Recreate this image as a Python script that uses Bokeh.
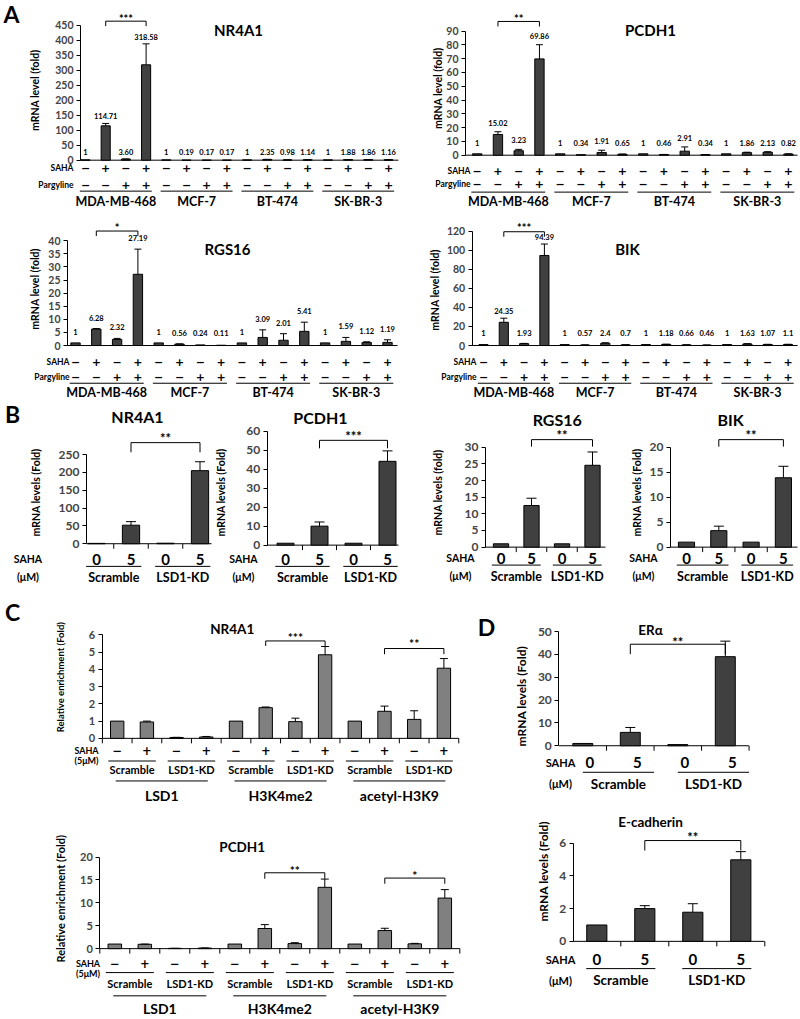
import math
from bokeh.plotting import figure
from bokeh.models import Range1d, LinearAxis, FixedTicker
from bokeh.layouts import row, column
from bokeh.core.properties import value
from bokeh.embed import file_html
from bokeh.resources import INLINE

# ------------------------------------------------------------------ data
A_LINES = ["MDA-MB-468", "MCF-7", "BT-474", "SK-BR-3"]
A_SAHA = ["−", "+", "−", "+"]
A_PARG = ["−", "−", "+", "+"]

A_NR4A1_VALS = [1, 114.71, 3.60, 318.58, 1, 0.19, 0.17, 0.17, 1, 2.35, 0.98, 1.14, 1, 1.88, 1.86, 1.16]
A_NR4A1_ERRS = [0, 8, 0.5, 70, 0, 0, 0, 0, 0, 0.5, 0.2, 0.2, 0, 0.3, 0.3, 0.2]
A_NR4A1_LBLS = ["1", "114.71", "3.60", "318.58", "1", "0.19", "0.17", "0.17",
                "1", "2.35", "0.98", "1.14", "1", "1.88", "1.86", "1.16"]
A_NR4A1_TICKS = [0, 50, 100, 150, 200, 250, 300, 350, 400, 450]
A_NR4A1_SIG = [2, 4, "***"]

A_PCDH1_VALS = [1, 15.02, 3.23, 69.86, 1, 0.34, 1.91, 0.65, 1, 0.46, 2.91, 0.34, 1, 1.86, 2.13, 0.82]
A_PCDH1_ERRS = [0, 2, 1.0, 10.3, 0, 0, 1.7, 0.2, 0, 0.1, 3.1, 0.1, 0, 0.3, 0.4, 0.2]
A_PCDH1_LBLS = ["1", "15.02", "3.23", "69.86", "1", "0.34", "1.91", "0.65",
                "1", "0.46", "2.91", "0.34", "1", "1.86", "2.13", "0.82"]
A_PCDH1_TICKS = [0, 10, 20, 30, 40, 50, 60, 70, 80, 90]
A_PCDH1_SIG = [2, 4, "**"]

A_RGS16_VALS = [1, 6.28, 2.32, 27.19, 1, 0.56, 0.24, 0.11, 1, 3.09, 2.01, 5.41, 1, 1.59, 1.12, 1.19]
A_RGS16_ERRS = [0, 0.2, 0.4, 9.6, 0, 0.05, 0, 0, 0, 2.9, 2.5, 3.5, 0, 1.5, 0.3, 1.0]
A_RGS16_LBLS = ["1", "6.28", "2.32", "27.19", "1", "0.56", "0.24", "0.11",
                "1", "3.09", "2.01", "5.41", "1", "1.59", "1.12", "1.19"]
A_RGS16_TICKS = [0, 5, 10, 15, 20, 25, 30, 35, 40]
A_RGS16_SIG = [2, 4, "*"]

A_BIK_VALS = [1, 24.35, 1.93, 94.39, 1, 0.57, 2.4, 0.7, 1, 1.18, 0.66, 0.46, 1, 1.63, 1.07, 1.1]
A_BIK_ERRS = [0, 4.3, 0.3, 12, 0, 0.1, 0.5, 0.1, 0, 0.2, 0.1, 0.1, 0, 0.3, 0.2, 0.2]
A_BIK_LBLS = ["1", "24.35", "1.93", "94.39", "1", "0.57", "2.4", "0.7",
              "1", "1.18", "0.66", "0.46", "1", "1.63", "1.07", "1.1"]
A_BIK_TICKS = [0, 20, 40, 60, 80, 100, 120]
A_BIK_SIG = [2, 4, "***"]

B_SAHA = ["0", "5", "0", "5"]
B_GROUPS = ["Scramble", "LSD1-KD"]
B_NR4A1_VALS = [1, 52, 1.5, 205]
B_NR4A1_ERRS = [0, 10, 0, 25]
B_NR4A1_TICKS = [0, 50, 100, 150, 200, 250]
B_NR4A1_SIG = [2, 4, "**"]
B_PCDH1_VALS = [1, 10, 1, 44.2]
B_PCDH1_ERRS = [0, 2.2, 0, 5.5]
B_PCDH1_TICKS = [0, 10, 20, 30, 40, 50, 60]
B_PCDH1_SIG = [2, 4, "***"]
B_RGS16_VALS = [1, 12.5, 1, 24.6]
B_RGS16_ERRS = [0, 2.2, 0, 4.0]
B_RGS16_TICKS = [0, 5, 10, 15, 20, 25, 30]
B_RGS16_SIG = [2, 4, "**"]
B_BIK_VALS = [1, 3.3, 1, 13.9]
B_BIK_ERRS = [0, 0.9, 0, 2.3]
B_BIK_TICKS = [0, 5, 10, 15, 20]
B_BIK_SIG = [2, 4, "**"]

C_SAHA = ["−", "+"]
C_SUBGROUPS = ["Scramble", "LSD1-KD"]
C_TARGETS = ["LSD1", "H3K4me2", "acetyl-H3K9"]
C_NR4A1_VALS = [1, 0.95, 0.05, 0.08, 1, 1.78, 0.97, 4.85, 1, 1.57, 1.1, 4.07]
C_NR4A1_ERRS = [0, 0.05, 0.01, 0.03, 0, 0.04, 0.2, 0.48, 0, 0.3, 0.5, 0.56]
C_NR4A1_TICKS = [0, 1, 2, 3, 4, 5, 6]
C_NR4A1_SIGS = [[6, 8, "***"], [10, 12, "**"]]
C_PCDH1_VALS = [1, 0.95, 0.06, 0.12, 1, 4.4, 1.1, 13.4, 1, 3.95, 1.05, 11.05]
C_PCDH1_ERRS = [0, 0.05, 0.02, 0.03, 0, 0.85, 0.2, 1.8, 0, 0.5, 0.1, 1.85]
C_PCDH1_TICKS = [0, 5, 10, 15, 20]
C_PCDH1_SIGS = [[6, 8, "**"], [10, 12, "*"]]

D_SAHA = ["0", "5", "0", "5"]
D_GROUPS = ["Scramble", "LSD1-KD"]
D_ERA_VALS = [1, 5.85, 0.5, 39]
D_ERA_ERRS = [0, 2.15, 0, 6.8]
D_ERA_TICKS = [0, 10, 20, 30, 40, 50]
D_ERA_SIG = [2, 4, "**"]
D_ECAD_VALS = [1, 2.0, 1.78, 4.98]
D_ECAD_ERRS = [0, 0.18, 0.52, 0.5]
D_ECAD_TICKS = [0, 2, 4, 6]
D_ECAD_SIG = [2, 4, "**"]

# ------------------------------------------------------------------ style / layout
FONT = "Lato"
SIGN_FONT = "DejaVu Sans"
DARK = "#404040"
MID = "#808080"
SX = 1.0
SY = 1017 / 1019.0


class Chart:
    """One sub-chart: a figure whose frame fills its canvas; layout positions given
    in reference pixels are converted through the figure's own data scale."""

    def __init__(self, g, top_val):
        x0, y0, x1, y1 = g["box"]
        self.g = g
        self.bx1, self.dx = g["bx1"], g["dx"]
        self.base = g["base"]
        self.kpy = (g["base"] - g["top"]) / float(top_val)
        self.top_val = top_val
        X0, X1 = round(x0 * SX), round(x1 * SX)
        Y0, Y1 = round(y0 * SY), round(y1 * SY)
        self.p = figure(width=X1 - X0, height=Y1 - Y0,
                        x_range=Range1d(self.xd(X0 / SX), self.xd(X1 / SX)),
                        y_range=Range1d(self.yd(Y1 / SY), self.yd(Y0 / SY)),
                        output_backend="svg", toolbar_location=None,
                        x_axis_location=None, y_axis_location=None,
                        min_border=0, outline_line_color=None,
                        background_fill_color="white", border_fill_color="white")
        self.p.grid.visible = False

    def xd(self, px):
        return 1 + (px - self.bx1) / self.dx

    def yd(self, py):
        return (self.base - py) / self.kpy

    def ux(self, d):
        return d / self.dx

    def uy(self, d):
        return d / self.kpy

    def yaxis(self, ticks, size):
        ax = LinearAxis(fixed_location=self.xd(self.g["axis"]), bounds=(0, self.top_val),
                        ticker=FixedTicker(ticks=ticks, minor_ticks=[]),
                        major_label_text_font=FONT, major_label_text_font_style="bold",
                        major_label_text_font_size=size, major_label_standoff=3,
                        major_tick_out=4, major_tick_in=0, minor_tick_out=0, minor_tick_in=0,
                        axis_line_color="black", major_tick_line_color="black")
        self.p.add_layout(ax, "left")

    def baseline(self, seps=(), tick=5):
        self.p.segment(x0=[self.xd(self.g["axis"])], y0=[0], x1=[self.xd(self.g["xend"])], y1=[0],
                       line_color="black", line_width=1)
        if seps:
            n = len(seps)
            self.p.segment(x0=list(seps), y0=[0] * n, x1=list(seps), y1=[-self.uy(tick)] * n,
                           line_color="black", line_width=1)

    def bars(self, vals, errs, color, width, cap=4):
        xs = list(range(1, len(vals) + 1))
        self.p.vbar(x=xs, top=vals, bottom=0, width=width, fill_color=color,
                    line_color="black", line_width=1)
        ex = [x for x, e in zip(xs, errs) if e > 0]
        ev = [v for v, e in zip(vals, errs) if e > 0]
        et = [v + e for v, e in zip(vals, errs) if e > 0]
        if ex:
            self.p.segment(x0=ex, y0=ev, x1=ex, y1=et, line_color="black", line_width=1)
            cw = self.ux(cap)
            self.p.segment(x0=[x - cw for x in ex], y0=et, x1=[x + cw for x in ex], y1=et,
                           line_color="black", line_width=1)

    def texts(self, xs, ys, txt, size, align="center", angle=0, font=FONT):
        self.p.text(x=xs, y=ys, text=txt, text_font=value(font), text_font_size=size,
                    text_font_style="bold", text_align=align, text_baseline="middle",
                    angle=angle, text_color="black")

    def t(self, px, py, s, size, align="center", angle=0):
        self.texts([self.xd(px)], [self.yd(py)], [s], size, align, angle)

    def hline(self, xa, xb, py):
        y = self.yd(py)
        self.p.segment(x0=[xa], y0=[y], x1=[xb], y1=[y], line_color="black", line_width=1)

    def bracket(self, sig, py, leg, star_py, size):
        i, j, stars = sig
        yb = self.yd(py)
        yl = self.yd(py + leg)
        self.p.multi_line(xs=[[i, i, j, j]], ys=[[yl, yb, yb, yl]], line_color="black", line_width=1)
        # asterisks sit high in the em box: lower the anchor so the glyphs land at star_py
        self.texts([(i + j) / 2.0], [self.yd(star_py + 0.25 * size)], [stars], "%gpx" % size)


# ------------------------------------------------------------------ panel A
GEO_A = {
    "NR4A1": dict(box=(0, 0, 400, 214), axis=80, bx1=85, dx=20.2, base=160, top=25, xend=398,
                  title=(238, 30), ylab=(34, 90), rowlab=73, saha=168, parg=185, uline=191,
                  names=201, floor=8, gap=7, br=20.7, leg=5, star=15, letter=(11, 14)),
    "PCDH1": dict(box=(400, 0, 800, 214), axis=465, bx1=476.7, dx=20.75, base=155, top=30.7, xend=797,
                  title=(650, 30), ylab=(437, 88), rowlab=470, saha=171, parg=184, uline=192,
                  names=201, floor=12, gap=9, br=21, leg=5, star=15),
    "RGS16": dict(box=(0, 214, 400, 401), axis=67, bx1=75, dx=20.8, base=345.7, top=240.7, xend=397,
                  title=(227, 249), ylab=(34, 289), rowlab=69, saha=362.7, parg=377.7, uline=383.5,
                  names=392.7, floor=13, gap=11, br=231, leg=5, star=225),
    "BIK": dict(box=(400, 214, 800, 401), axis=471.7, bx1=483, dx=20.3, base=345.7, top=231, xend=797,
                title=(627, 249), ylab=(434, 290), rowlab=476, saha=362.3, parg=377.7, uline=383.5,
                names=392.7, floor=13, gap=7, br=231.7, leg=5, star=225),
}


def chart_A(g, title, vals, errs, lbls, ticks, sig):
    c = Chart(g, ticks[-1])
    c.yaxis(ticks, "10.5px")
    c.baseline()
    c.bars(vals, errs, DARK, 0.45, cap=3.5)
    xs = list(range(1, len(vals) + 1))
    ly = [max(c.uy(g["floor"]), v + e + c.uy(g["gap"])) for v, e in zip(vals, errs)]
    c.texts(xs, ly, lbls, "7.5px")
    c.t(g["title"][0], g["title"][1], title, "15px")
    c.t(g["ylab"][0], g["ylab"][1], "mRNA level (fold)", "10.5px", angle=math.pi / 2)
    n = len(vals)
    c.texts(xs, [c.yd(g["saha"])] * n, A_SAHA * len(A_LINES), "11px", font=SIGN_FONT)
    c.texts(xs, [c.yd(g["parg"])] * n, A_PARG * len(A_LINES), "11px", font=SIGN_FONT)
    c.t(g["rowlab"], g["saha"], "SAHA", "8.5px", align="right")
    c.t(g["rowlab"], g["parg"], "Pargyline", "8.5px", align="right")
    k = len(A_SAHA)
    for gi, name in enumerate(A_LINES):
        a, b = gi * k + 1, gi * k + k
        c.hline(a - 0.28, b + 0.28, g["uline"])
        c.texts([(a + b) / 2.0], [c.yd(g["names"])], [name], "12.5px")
    c.bracket(sig, g["br"], g["leg"], g["star"], 11)
    if "letter" in g:
        c.t(g["letter"][0], g["letter"][1], "A", "23px")
    return c.p


# ------------------------------------------------------------------ panel B
GEO_B = {
    "NR4A1": dict(box=(0, 401, 212, 598), axis=86, bx1=96, dx=34.5, base=544.3, top=455, xend=211,
                  title=(137, 417), ylab=(35, 493), lab=27.5, nums=560, uline=567, names=578,
                  br=443, leg=9.7, star=435, seps=[1.5, 2.5, 3.5], letter=(12, 414)),
    "PCDH1": dict(box=(212, 401, 410, 598), axis=266.7, bx1=285, dx=34, base=545.7, top=431.7, xend=398,
                  title=(320, 418), ylab=(220, 493), lab=243, nums=560, uline=567, names=578,
                  br=440.7, leg=8, star=433.3, seps=[1.5, 2.5, 3.5]),
    "RGS16": dict(box=(410, 401, 610, 598), axis=485, bx1=500.5, dx=30.5, base=547.7, top=447.7, xend=605,
                  title=(556.7, 420), ylab=(437, 493), lab=460, nums=559, uline=565.7, names=576.7,
                  br=440, leg=7, star=432, seps=[1.5, 2.5, 3.5]),
    "BIK": dict(box=(610, 401, 800, 598), axis=670, bx1=686, dx=32.3, base=547.7, top=447.7, xend=797,
                title=(730, 420), ylab=(636, 493), lab=643, nums=559, uline=565.7, names=576.7,
                br=440, leg=7, star=432, seps=[1.5, 2.5, 3.5]),
}


def chart_B(g, title, ylab, vals, errs, ticks, sig):
    c = Chart(g, ticks[-1])
    c.yaxis(ticks, "12px")
    c.baseline(g["seps"])
    c.bars(vals, errs, DARK, 0.5, cap=5)
    xs = list(range(1, len(vals) + 1))
    c.t(g["title"][0], g["title"][1], title, "16px")
    c.t(g["ylab"][0], g["ylab"][1], ylab, "10.5px", angle=math.pi / 2)
    c.texts(xs, [c.yd(g["nums"])] * len(xs), B_SAHA, "15px")
    c.t(g["lab"], g["nums"], "SAHA", "10.5px")
    c.t(g["lab"], g["names"], "(μM)", "10.5px")
    for gi, name in enumerate(B_GROUPS):
        a, b = 2 * gi + 1, 2 * gi + 2
        c.hline(a - 0.3, b + 0.3, g["uline"])
        c.texts([(a + b) / 2.0], [c.yd(g["names"])], [name], "12.5px")
    c.bracket(sig, g["br"], g["leg"], g["star"], 13)
    if "letter" in g:
        c.t(g["letter"][0], g["letter"][1], "B", "23px")
    return c.p


# ------------------------------------------------------------------ panel C
GEO_C = {
    "NR4A1": dict(box=(0, 598, 470, 808), axis=101.7, bx1=116.7, dx=29.7, base=739.3, top=635.7,
                  xend=458.3, title=(231.7, 630), ylab=(60, 678), ylab_size="9.5px", lab=86,
                  saha=751, um=761, signs=751, uline1=762, sub=770.5, uline2=782, names=796.7,
                  brs=[(641.7, 5, 635), (649.3, 5.7, 641.7)], letter=(12, 613)),
    "PCDH1": dict(box=(0, 808, 470, 1019), axis=99.3, bx1=114.3, dx=30, base=950, top=858.3,
                  xend=459.3, title=(241.7, 848.3), ylab=(60, 900), ylab_size="11px", lab=87.5,
                  saha=964.5, um=975, signs=965, uline1=974, sub=985, uline2=997.3, names=1009.5,
                  brs=[(874, 6, 868.3), (879.3, 5.7, 873.3)]),
}


def chart_C(g, title, vals, errs, ticks, sigs):
    c = Chart(g, ticks[-1])
    c.yaxis(ticks, "11px")
    n = len(vals)
    c.baseline([i + 0.5 for i in range(0, n + 1)])
    c.bars(vals, errs, MID, 0.45, cap=4)
    xs = list(range(1, n + 1))
    c.t(g["title"][0], g["title"][1], title, "13.5px")
    c.t(g["ylab"][0], g["ylab"][1], "Relative enrichment (Fold)", g["ylab_size"], angle=math.pi / 2)
    c.texts(xs, [c.yd(g["signs"])] * n, C_SAHA * (n // 2), "11.5px", font=SIGN_FONT)
    c.t(g["lab"], g["saha"], "SAHA", "9px")
    c.t(g["lab"], g["um"], "(5μM)", "9px")
    per = len(C_SAHA) * len(C_SUBGROUPS)
    for ti, target in enumerate(C_TARGETS):
        for si, sub in enumerate(C_SUBGROUPS):
            a = ti * per + si * len(C_SAHA) + 1
            b = a + len(C_SAHA) - 1
            c.hline(a - 0.3, b + 0.3, g["uline1"])
            c.texts([(a + b) / 2.0], [c.yd(g["sub"])], [sub], "11px")
        a, b = ti * per + 1, ti * per + per
        c.hline(a - 0.05, b + 0.05, g["uline2"])
        c.texts([(a + b) / 2.0], [c.yd(g["names"])], [target], "14px")
    for sig, (py, leg, sy) in zip(sigs, g["brs"]):
        c.bracket(sig, py, leg, sy, 12)
    if "letter" in g:
        c.t(g["letter"][0], g["letter"][1], "C", "23px")
    return c.p


# ------------------------------------------------------------------ panel D
GEO_D = {
    "ERA": dict(box=(470, 598, 800, 808), axis=558.3, bx1=582.3, dx=47.5, base=746.7, top=632.3,
                xend=748.3, title=(650, 630.7), ylab=(521, 697), lab=560, nums=763.3, um=785,
                off=0.15, uline=773.3, ul=(0.0, 0.5), names=785, br=645, leg=10, star=639.3,
                letter=(486, 628)),
    "ECAD": dict(box=(470, 808, 800, 1019), axis=572.7, bx1=596.3, dx=48, base=942.7, top=844.3,
                 xend=764, title=(650, 823.3), ylab=(542.5, 872.5), lab=560, nums=961, um=981.7,
                 off=0.0, uline=970, ul=(0.22, 0.22), names=981.7, br=841.7, leg=10, star=835),
}


def chart_D(g, title, vals, errs, ticks, sig):
    c = Chart(g, ticks[-1])
    c.yaxis(ticks, "12px")
    c.baseline([1.5, 2.5, 3.5, 4.5])
    c.bars(vals, errs, DARK, 0.42, cap=5)
    xs = list(range(1, len(vals) + 1))
    c.t(g["title"][0], g["title"][1], title, "13.5px")
    c.t(g["ylab"][0], g["ylab"][1], "mRNA levels (Fold)", "12px", angle=math.pi / 2)
    c.texts([x + g["off"] for x in xs], [c.yd(g["nums"])] * len(xs), D_SAHA, "15px")
    c.t(g["lab"], g["nums"], "SAHA", "11px")
    c.t(g["lab"], g["um"], "(μM)", "11px")
    for gi, name in enumerate(D_GROUPS):
        a, b = 2 * gi + 1, 2 * gi + 2
        xa, xb = a - g["ul"][0], b + g["ul"][1]
        c.hline(xa, xb, g["uline"])
        c.texts([(xa + xb) / 2.0], [c.yd(g["names"])], [name], "13.5px")
    c.bracket(sig, g["br"], g["leg"], g["star"], 13)
    if "letter" in g:
        c.t(g["letter"][0], g["letter"][1], "D", "23px")
    return c.p


# ------------------------------------------------------------------ assemble
a1 = chart_A(GEO_A["NR4A1"], "NR4A1", A_NR4A1_VALS, A_NR4A1_ERRS, A_NR4A1_LBLS, A_NR4A1_TICKS, A_NR4A1_SIG)
a2 = chart_A(GEO_A["PCDH1"], "PCDH1", A_PCDH1_VALS, A_PCDH1_ERRS, A_PCDH1_LBLS, A_PCDH1_TICKS, A_PCDH1_SIG)
a3 = chart_A(GEO_A["RGS16"], "RGS16", A_RGS16_VALS, A_RGS16_ERRS, A_RGS16_LBLS, A_RGS16_TICKS, A_RGS16_SIG)
a4 = chart_A(GEO_A["BIK"], "BIK", A_BIK_VALS, A_BIK_ERRS, A_BIK_LBLS, A_BIK_TICKS, A_BIK_SIG)

b1 = chart_B(GEO_B["NR4A1"], "NR4A1", "mRNA levels (Fold)", B_NR4A1_VALS, B_NR4A1_ERRS, B_NR4A1_TICKS, B_NR4A1_SIG)
b2 = chart_B(GEO_B["PCDH1"], "PCDH1", "mRNA levels (Fold)", B_PCDH1_VALS, B_PCDH1_ERRS, B_PCDH1_TICKS, B_PCDH1_SIG)
b3 = chart_B(GEO_B["RGS16"], "RGS16", "mRNA levels (fold)", B_RGS16_VALS, B_RGS16_ERRS, B_RGS16_TICKS, B_RGS16_SIG)
b4 = chart_B(GEO_B["BIK"], "BIK", "mRNA levels (Fold)", B_BIK_VALS, B_BIK_ERRS, B_BIK_TICKS, B_BIK_SIG)

c1 = chart_C(GEO_C["NR4A1"], "NR4A1", C_NR4A1_VALS, C_NR4A1_ERRS, C_NR4A1_TICKS, C_NR4A1_SIGS)
c2 = chart_C(GEO_C["PCDH1"], "PCDH1", C_PCDH1_VALS, C_PCDH1_ERRS, C_PCDH1_TICKS, C_PCDH1_SIGS)

d1 = chart_D(GEO_D["ERA"], "ERα", D_ERA_VALS, D_ERA_ERRS, D_ERA_TICKS, D_ERA_SIG)
d2 = chart_D(GEO_D["ECAD"], "E-cadherin", D_ECAD_VALS, D_ECAD_ERRS, D_ECAD_TICKS, D_ECAD_SIG)

layout = column(row(a1, a2), row(a3, a4), row(b1, b2, b3, b4),
                row(column(c1, c2), column(d1, d2)))

open("out.html", "w").write(file_html(layout, INLINE))
